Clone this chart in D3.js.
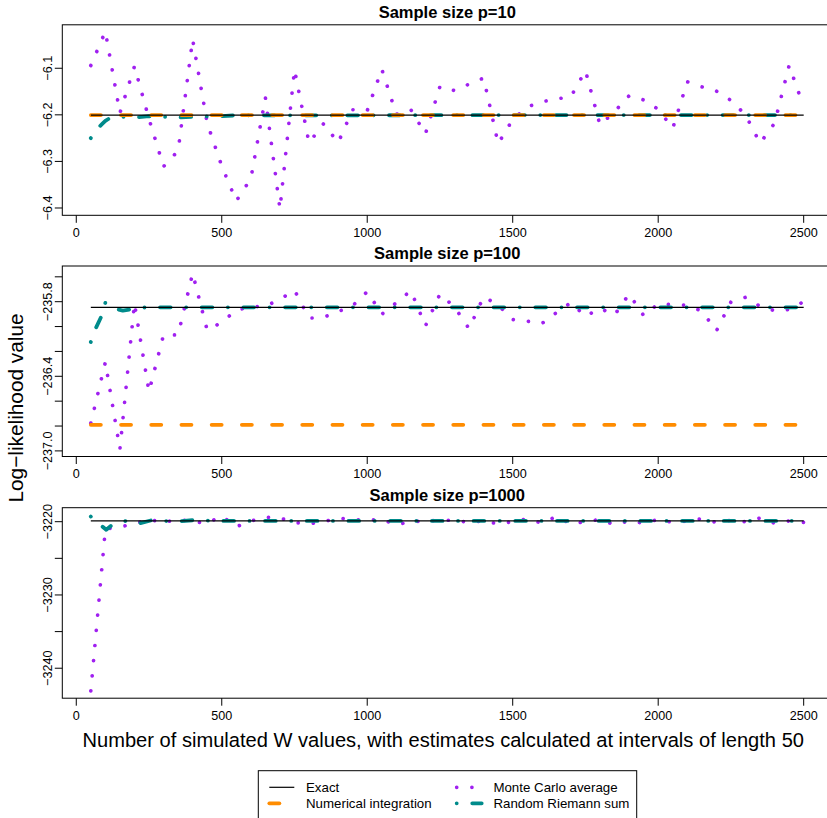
<!DOCTYPE html>
<html><head><meta charset="utf-8">
<script src="https://cdn.jsdelivr.net/npm/d3@7"></script>
<style>html,body{margin:0;padding:0;background:#fff;overflow:hidden}
svg{display:block;font-family:"Liberation Sans",Arial,Helvetica,sans-serif}</style>
</head><body><svg id="c" width="827" height="818"></svg>
<script>
// ---------------- data ----------------
const estX = [50,100,150,200,250,300,350,400,450,500,550,600,650,700,750,800,850,900,950,1000,
  1050,1100,1150,1200,1250,1300,1350,1400,1450,1500,1550,1600,1650,1700,1750,1800,1850,1900,1950,2000,
  2050,2100,2150,2200,2250,2300,2350,2400,2450,2500];
const xTicks = [0,500,1000,1500,2000,2500];

const titles = ["Sample size p=10","Sample size p=100","Sample size p=1000"];
const exactVals = [-6.2005, -235.845, -3219.9];
const numIntVals = [-6.2005, -236.79, null];

const mcP10 = [-6.094,-6.021,-6.196,-6.096,-6.209,-6.311,-6.277,-6.038,-6.218,-6.310,
  -6.385,-6.337,-6.163,-6.402,-6.103,-6.260,-6.219,-6.260,-6.189,-6.191,
  -6.102,-6.199,-6.189,-6.241,-6.139,-6.148,-6.134,-6.121,-6.262,-6.210,
  -6.183,-6.172,-6.166,-6.161,-6.105,-6.222,-6.193,-6.159,-6.168,-6.188,
  -6.229,-6.129,-6.140,-6.149,-6.169,-6.200,-6.261,-6.218,-6.094,-6.183];
const mcP100 = [-236.777,-236.287,-236.986,-235.813,-236.523,-236.067,-236.067,-235.572,-236.030,-235.966,
  -235.867,-235.843,-235.837,-235.781,-235.708,-235.933,-235.925,-235.880,-235.832,-235.719,
  -235.901,-235.808,-235.711,-235.995,-235.738,-235.843,-236.017,-235.760,-235.827,-235.944,
  -235.957,-235.976,-235.888,-235.808,-235.918,-235.853,-235.907,-235.738,-235.912,-235.818,
  -235.824,-235.829,-235.875,-236.035,-235.802,-235.765,-235.837,-235.872,-235.864,-235.800];
const mcP1000 = [-3243.1,-3221.0,-3220.7,-3220.3,-3219.7,-3220.1,-3219.7,-3220.0,-3220.2,-3219.2,
  -3220.7,-3219.9,-3219.4,-3219.5,-3220.1,-3220.3,-3220.0,-3219.5,-3219.7,-3219.8,
  -3219.7,-3220.4,-3220.0,-3219.9,-3219.8,-3219.8,-3220.1,-3219.9,-3220.3,-3220.0,
  -3219.6,-3220.2,-3219.3,-3220.3,-3220.0,-3219.7,-3220.4,-3219.9,-3220.2,-3219.7,
  -3220.1,-3219.9,-3219.6,-3220.1,-3219.8,-3220.0,-3219.5,-3220.2,-3219.9,-3220.1];

const rsXP10 = [50,60,70,80,90,100,115,150,200,250,300,350,400,500,550,700,1000,1500,2000,2500];
const rsP10  = [-6.250,-6.241,-6.232,-6.225,-6.219,-6.213,-6.207,-6.204,-6.206,-6.203,-6.204,-6.206,-6.204,-6.203,-6.201,-6.201,-6.201,-6.2005,-6.2005,-6.2005];
const rsXP100 = [50,68,86,100,130,160,190,220,300,500,1000,1500,2000,2500];
const rsP100  = [-236.124,-236.009,-235.920,-235.808,-235.855,-235.872,-235.860,-235.847,-235.845,-235.845,-235.845,-235.845,-235.845,-235.845];
const rsXP1000 = [50,88,103,123,167,209,260,300,350,400,500,1000,1500,2000,2500];
const rsP1000  = [-3219.3,-3220.6,-3221.1,-3220.45,-3219.9,-3220.3,-3219.8,-3219.9,-3219.95,-3219.8,-3219.9,-3219.9,-3219.9,-3219.9,-3219.9];

const yDomains = [[-6.4157,-6.0067],[-237.045,-235.513],[-3244.09,-3218.09]];
const yTicks = [[-6.4,-6.3,-6.2,-6.1],[-237.0,-236.8,-236.6,-236.4,-236.2,-236.0,-235.8,-235.6],[-3240,-3235,-3230,-3225,-3220]];
const yTickLabels = [[-6.4,-6.3,-6.2,-6.1],[-237.0,-236.4,-235.8],[-3240,-3230,-3220]];
const yFormats = [".1f",".1f","d"];

const legendLabels = ["Exact","Numerical integration","Monte Carlo average","Random Riemann sum"];

// ---------------- styles ----------------
const COL = {exact:"#000000", num:"#FF8C00", mc:"#A020F0", rs:"#008B8B"};
const STY = {
  exact:{w:1.2, dash:null},
  num:{w:3.7, dash:"10.1 20.1"},
  mc:{w:3.7, dash:"0.01 15.2"},
  rs:{w:3.8, dash:"0.01 15.55 10.6 15.54"}
};

// ---------------- layout ----------------
const svg = d3.select("#c");
svg.append("rect").attr("width",827).attr("height",818).attr("fill","#fff");
const plotL = 62.3, plotR = 832.2;
const tops = [24.8, 266.0, 507.7], ph = 190.5;
const x = d3.scaleLinear().domain([-48, 2598]).range([plotL, plotR]);

const mcs = [mcP10, mcP100, mcP1000];
const rsXs = [rsXP10, rsXP100, rsXP1000];
const rss = [rsP10, rsP100, rsP1000];

function styled(path, key){
  path.attr("fill","none").attr("stroke",COL[key]).attr("stroke-width",STY[key].w)
    .attr("stroke-linecap", key==="exact" ? "butt" : "round").attr("stroke-linejoin","round");
  if (STY[key].dash) path.attr("stroke-dasharray", STY[key].dash);
  return path;
}

for (let p=0;p<3;p++){
  const top = tops[p], bot = top+ph;
  const y = d3.scaleLinear().domain(yDomains[p]).range([bot, top]);
  const g = svg.append("g");
  const cid = "clip"+p;
  svg.append("clipPath").attr("id",cid).append("rect")
    .attr("x",plotL).attr("y",top).attr("width",plotR-plotL).attr("height",ph);
  const pg = g.append("g").attr("clip-path",`url(#${cid})`);
  const line = d3.line().defined(d=>d[1]!=null).x(d=>x(d[0])).y(d=>y(d[1]));
  const first = estX[0], last = estX[estX.length-1];

  // Monte Carlo average (dotted)
  styled(pg.append("path").attr("d", line(estX.map((v,i)=>[v, mcs[p][i]]))), "mc");
  // Random Riemann sum (dot-dash)
  styled(pg.append("path").attr("d", line(rsXs[p].map((v,i)=>[v, rss[p][i]]))), "rs");
  // Numerical integration (dashed)
  if (numIntVals[p]!=null){
    const numPts = [[first, numIntVals[p]], [last, numIntVals[p]]];
    styled(pg.append("path").attr("d", line(numPts)), "num");
  }
  // Exact
  const exPts = [[first, exactVals[p]], [last, exactVals[p]]];
  styled(pg.append("path").attr("d", line(exPts)), "exact");

  // box
  g.append("rect").attr("x",plotL).attr("y",top).attr("width",plotR-plotL).attr("height",ph)
    .attr("fill","none").attr("stroke","#000").attr("stroke-width",1);

  // x axis
  const xa = g.append("g");
  xTicks.forEach(t=>{
    xa.append("line").attr("x1",x(t)).attr("x2",x(t)).attr("y1",bot).attr("y2",bot+7.5)
      .attr("stroke","#000").attr("stroke-width",1);
    xa.append("text").attr("x",x(t)).attr("y",bot+21.5).attr("text-anchor","middle")
      .attr("font-size",12.6).attr("fill","#000").text(t);
  });
  // y axis
  const ya = g.append("g");
  const fmt = d3.format(yFormats[p]);
  yTicks[p].forEach(t=>{
    ya.append("line").attr("x1",plotL-7.5).attr("x2",plotL).attr("y1",y(t)).attr("y2",y(t))
      .attr("stroke","#000").attr("stroke-width",1);
  });
  yTickLabels[p].forEach(t=>{
    ya.append("text").attr("transform",`translate(${plotL-10.8},${y(t)}) rotate(-90)`)
      .attr("text-anchor","middle").attr("font-size",12.6).attr("fill","#000").text(fmt(t));
  });
  // title
  g.append("text").attr("x",(plotL+plotR)/2).attr("y",top-6.6).attr("text-anchor","middle")
    .attr("font-size",16.5).attr("font-weight","bold").attr("fill","#000").text(titles[p]);
}

// axis titles
svg.append("text").attr("x",(plotL+plotR)/2 - 4).attr("y",746.5).attr("text-anchor","middle")
  .attr("font-size",20.1).attr("fill","#000")
  .text("Number of simulated W values, with estimates calculated at intervals of length 50");
svg.append("text").attr("transform","translate(23,408) rotate(-90)").attr("text-anchor","middle")
  .attr("font-size",20.8).attr("fill","#000").text("Log\u2212likelihood value");

// legend
const lg = svg.append("g");
lg.append("rect").attr("x",258.3).attr("y",770.7).attr("width",378.4).attr("height",49)
  .attr("fill","#fff").attr("stroke","#000").attr("stroke-width",1);
const legItems = [
  {key:"exact", col:0, row:0}, {key:"num", col:0, row:1},
  {key:"mc", col:1, row:0}, {key:"rs", col:1, row:1}
];
const colX = [269.3, 456.7], rowY = [787.3, 803.3];
legItems.forEach((it,i)=>{
  const x0 = colX[it.col], yy = rowY[it.row];
  styled(lg.append("path").attr("d",`M${x0},${yy}H${x0+25}`), it.key);
  lg.append("text").attr("x", x0+36.7).attr("y", yy+4.7).attr("font-size",13.3).attr("fill","#000")
    .text(legendLabels[i]);
});
</script></body></html>
